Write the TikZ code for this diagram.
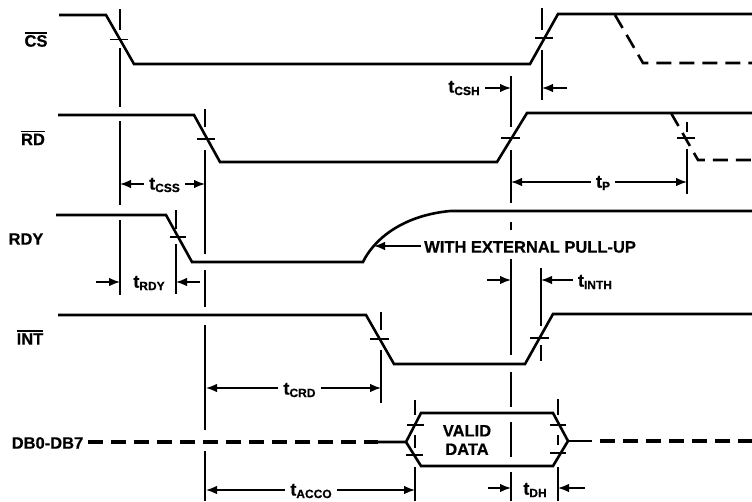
\documentclass[tikz,border=0pt]{standalone}
\usepackage{fontspec}
\setmainfont{Liberation Sans}[BoldFont={Liberation Sans Bold},BoldFeatures={FakeBold=0.6}]
\usetikzlibrary{arrows.meta}
\newcommand{\tlab}[1]{{\fontsize{18}{18}\selectfont t}\raisebox{-2.5pt}{\fontsize{12}{12}\selectfont #1}}
\newcommand{\ovl}[1]{\vbox{\hrule height 1.3pt\kern 1.6pt\hbox{#1}}}
\tikzset{
  x=1pt,y=-1pt,
  wave/.style={line width=2.6pt,line join=miter,black},
  wavedash/.style={wave,dash pattern=on 15pt off 8pt},
  busdash/.style={wavedash,line width=3.4pt},
  ref/.style={line width=1.5pt},
  tick/.style={line width=1.5pt},
  dimline/.style={line width=1.4pt,-{Latex[length=11pt,width=8.5pt]}},
  sig/.style={font=\bfseries\fontsize{16.5}{16.5}\selectfont,inner sep=0pt,anchor=center},
  tname/.style={font=\bfseries,inner sep=5pt,anchor=center},
}
\begin{document}
\begin{tikzpicture}
\useasboundingbox (0,0) rectangle (752,501);
\fill[white] (0,0) rectangle (752,501);
% signal names
\node[sig] (cs) at (36,39.5) {\ovl{CS}};
\node[sig] (rd) at (33,138) {\ovl{RD}};
\node[sig] (rdy) at (26,239) {RDY};
\node[sig] (int) at (30,337.5) {\ovl{INT}};
\node[sig] (db) at (47.5,443) {DB0-DB7};
\node[sig,align=center] (valid) at (467,440) {VALID\\[2pt]DATA};
% waveforms
\draw[wave] (59,15) -- (106,15) -- (134,64) -- (530,64) -- (558,14) -- (752,14);
\draw[wavedash] (615,15) -- (643,63) -- (752,63);
\draw[wave] (58,115) -- (194,115) -- (220,162) -- (497,162) -- (527,113) -- (752,113);
\draw[wavedash] (671,113) -- (698,160) -- (752,160);
\draw[wave] (56,215) -- (166,215) -- (192,262) -- (363,262)
   .. controls (372,243) and (398,216) .. (450,211) -- (752,211);
\draw[wave] (58,315) -- (366,315) -- (394,364) -- (525,364) -- (553,314) -- (752,314);
\draw[busdash] (88,442) -- (378,442);
\draw[wave] (378,442) -- (406,442) -- (421,413) -- (553,413) -- (568,441) -- (553,466) -- (421,466) -- (406,442);
\draw[wave] (568,441) -- (592,441);
\draw[busdash] (600,441) -- (752,441);
% crossing ticks
\foreach \xa/\xb/\yy in {110/128/39.5,197/215/139,170/186/237,370/389/339,535/553/38,501/520/138,677/695/138,530/549/338,407/424/425,406/423/455,550/566/425,550/566/453}
  \draw[tick] (\xa,\yy) -- (\xb,\yy);
% reference verticals
\foreach \xx/\ya/\yb in {
  120/9/30, 120/48/107, 120/121/205, 120/220/295,
  205/109/127, 205/150/254, 205/270/307, 205/325/430, 205/451/501,
  176/210/229, 176/244/294,
  381/312/330, 381/350/403,
  511/76/127, 511/150/203, 511/222/230, 511/259/355, 511/372/407, 511/422/457, 511/472/501,
  542/8/30, 542/50/100,
  541/268/326, 541/345/361,
  687/122/132, 687/149/194,
  415/400/415, 415/435/448, 415/467/501,
  558/399/415, 558/435/445, 558/467/501}
  \draw[ref] (\xx,\ya) -- (\xx,\yb);
% timing labels
\node[tname] (tcss) at (164.5,185) {\tlab{CSS}};
\node[tname] (tcsh) at (464,88) {\tlab{CSH}};
\node[tname] (tp) at (603,183) {\tlab{P}};
\node[tname] (trdy) at (149,283) {\tlab{RDY}};
\node[tname] (tinth) at (595,282) {\tlab{INTH}};
\node[tname] (tcrd) at (299.5,390) {\tlab{CRD}};
\node[tname] (tacco) at (311,491) {\tlab{ACCO}};
\node[tname] (tdh) at (535,490) {\tlab{DH}};
\node[font=\bfseries\fontsize{16.5}{16.5}\selectfont,inner sep=3pt,anchor=west] (pull) at (421,247) {WITH EXTERNAL PULL-UP};
% arrow ends
\coordinate (a1) at (120,184); \coordinate (a2) at (205,184);
\coordinate (b1) at (511,88); \coordinate (b2) at (542,88); \coordinate (b3) at (567,88);
\coordinate (c1) at (511,182); \coordinate (c2) at (687,182);
\coordinate (d0) at (96,282); \coordinate (d1) at (120,282); \coordinate (d2) at (176,282); \coordinate (d3) at (200,282);
\coordinate (e0) at (487,280); \coordinate (e1) at (511,280); \coordinate (e2) at (541,280);
\coordinate (f1) at (206,388); \coordinate (f2) at (381,388);
\coordinate (g1) at (206,490); \coordinate (g2) at (415,490);
\coordinate (h0) at (488,488); \coordinate (h1) at (511,488); \coordinate (h2) at (558,488); \coordinate (h3) at (585,488);
\coordinate (p1) at (374,246);
% dimension arrows
\draw[dimline] (tcss.west |- a1) -- (a1);
\draw[dimline] (tcss.east |- a2) -- (a2);
\draw[dimline] (tcsh.east |- b1) -- (b1);
\draw[dimline] (b3) -- (b2);
\draw[dimline] (tp.west |- c1) -- (c1);
\draw[dimline] (tp.east |- c2) -- (c2);
\draw[dimline] (d0) -- (d1);
\draw[dimline] (d3) -- (d2);
\draw[dimline] (e0) -- (e1);
\draw[dimline] (tinth.west |- e2) -- (e2);
\draw[dimline] (tcrd.west |- f1) -- (f1);
\draw[dimline] (tcrd.east |- f2) -- (f2);
\draw[dimline] (tacco.west |- g1) -- (g1);
\draw[dimline] (tacco.east |- g2) -- (g2);
\draw[dimline] (h0) -- (h1);
\draw[dimline] (h3) -- (h2);
\draw[dimline] (pull.west |- p1) -- (p1);
\end{tikzpicture}
\end{document}
